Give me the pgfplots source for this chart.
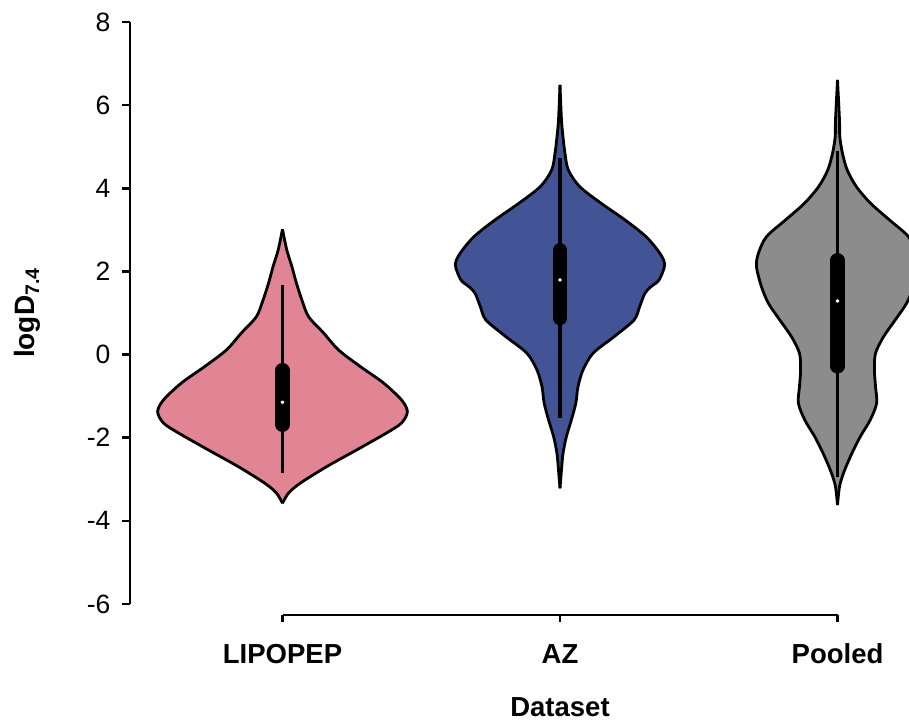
\documentclass[border=0pt]{standalone}
\usepackage{pgfplots}
\pgfplotsset{compat=1.18}
\usepgfplotslibrary{fillbetween}
\usepackage{pgfplotstable}
\usepackage{fontspec}
\setmainfont{Liberation Sans}

\definecolor{lipoc}{RGB}{225,132,147}
\definecolor{azc}{RGB}{66,84,150}
\definecolor{poolc}{RGB}{140,140,140}

% violin outlines: y value, half width (x units)
\pgfplotstableread{
y w
3.014 0
2.516 0.0155
2.115 0.034
1.723 0.050
1.313 0.070
0.912 0.094
0.520 0.148
0.111 0.202
-0.291 0.281
-0.683 0.364
-1.092 0.429
-1.374 0.450
-1.646 0.429
-1.886 0.375
-2.295 0.267
-2.697 0.159
-3.089 0.065
-3.329 0.022
-3.577 0
}\lipo

\pgfplotstableread{
y w
6.486 0
5.64 0.0054
5.24 0.0108
4.84 0.018
4.44 0.030
4.04 0.071
3.64 0.148
3.24 0.234
2.836 0.310
2.436 0.360
2.155 0.377
1.795 0.357
1.633 0.328
1.474 0.306
1.152 0.287
0.832 0.267
0.43 0.195
0.031 0.119
-0.37 0.083
-0.77 0.065
-1.17 0.057
-1.573 0.041
-1.975 0.023
-2.374 0.011
-2.776 0.0054
-3.217 0
}\az

\pgfplotstableread{
y w
6.606 0
5.64 0.0072
5.24 0.0083
4.84 0.018
4.44 0.035
4.04 0.068
3.64 0.119
3.24 0.187
2.836 0.256
2.436 0.285
2.115 0.292
1.633 0.274
1.234 0.249
0.832 0.208
0.43 0.166
0.031 0.137
-0.37 0.133
-0.77 0.137
-1.17 0.141
-1.573 0.118
-1.975 0.082
-2.374 0.052
-2.776 0.026
-3.15 0.008
-3.62 0
}\pool

\begin{document}
\begin{tikzpicture}
\begin{axis}[
  set layers,
  at={(0pt,0pt)}, anchor=south west,
  scale only axis, width=779pt, height=582pt,
  xmin=-0.5495, xmax=2.2577, ymin=-6, ymax=8,
  axis y line*=left, hide x axis,
  ytick={-6,-4,-2,0,2,4,6,8},
  tick align=outside, major tick length=8pt,
  every tick/.style={black, line width=2.6pt},
  y axis line style={line width=2.8pt, -},
  /pgf/number format/assume math mode=true,
  yticklabel style={font=\fontsize{26.5}{30}\selectfont, xshift=-8pt},
  every axis y label/.style={at={(axis description cs:0,0.5)}, xshift=-103pt, rotate=90, anchor=center, font=\fontsize{28}{32}\selectfont\bfseries},
  ylabel={logD\textsubscript{7.4}},
  clip=true,
]
% LIPOPEP
\addplot[name path=Lr, black, line width=2.8pt, smooth, tension=0.5] table[x expr=0+\thisrow{w}, y=y]{\lipo};
\addplot[name path=Ll, black, line width=2.8pt, smooth, tension=0.5] table[x expr=0-\thisrow{w}, y=y]{\lipo};
\addplot[lipoc] fill between[of=Lr and Ll];
% AZ
\addplot[name path=Ar, black, line width=2.8pt, smooth, tension=0.5] table[x expr=1+\thisrow{w}, y=y]{\az};
\addplot[name path=Al, black, line width=2.8pt, smooth, tension=0.5] table[x expr=1-\thisrow{w}, y=y]{\az};
\addplot[azc] fill between[of=Ar and Al];
% Pooled
\addplot[name path=Pr, black, line width=2.8pt, smooth, tension=0.5] table[x expr=2+\thisrow{w}, y=y]{\pool};
\addplot[name path=Pl, black, line width=2.8pt, smooth, tension=0.5] table[x expr=2-\thisrow{w}, y=y]{\pool};
\addplot[poolc] fill between[of=Pr and Pl];
% whiskers
\addplot[black, line width=3.2pt] coordinates {(0,1.674) (0,-2.848)};
\addplot[black, line width=3.2pt] coordinates {(1,4.72) (1,-1.53)};
\addplot[black, line width=3.2pt] coordinates {(2,4.9) (2,-2.95)};
% boxes
\addplot[black, line width=14.5pt, line cap=round] coordinates {(0,-0.377) (0,-1.687)};
\addplot[black, line width=14.5pt, line cap=round] coordinates {(1,2.509) (1,0.880)};
\addplot[black, line width=14.5pt, line cap=round] coordinates {(2,2.268) (2,-0.282)};
% medians
\addplot[only marks, mark=*, mark size=2pt, mark options={draw=none, fill=white}] coordinates {(0,-1.147) (1,1.795) (2,1.29)};
\end{axis}
\begin{axis}[
  at={(152.5pt,-11pt)}, anchor=south west,
  scale only axis, width=555pt, height=20pt,
  xmin=0, xmax=2, ymin=0, ymax=1,
  axis x line*=bottom, hide y axis,
  x axis line style={line width=2.8pt, -},
  xtick={0,1,2}, xticklabels={LIPOPEP,AZ,Pooled},
  tick align=outside, major tick length=7pt,
  every tick/.style={black, line width=2.6pt},
  xticklabel style={font=\fontsize{27.5}{32}\selectfont\bfseries, anchor=center, yshift=-32pt},
  every axis x label/.style={at={(axis description cs:0.5,0)}, yshift=-92pt, anchor=center, font=\fontsize{27.5}{32}\selectfont\bfseries},
  xlabel={Dataset},
]
\addplot[draw=none] coordinates {(0,0.5) (2,0.5)};
\end{axis}
\pgfresetboundingbox
\useasboundingbox (-130pt,-123pt) rectangle (779pt,604pt);
\end{tikzpicture}
\end{document}
